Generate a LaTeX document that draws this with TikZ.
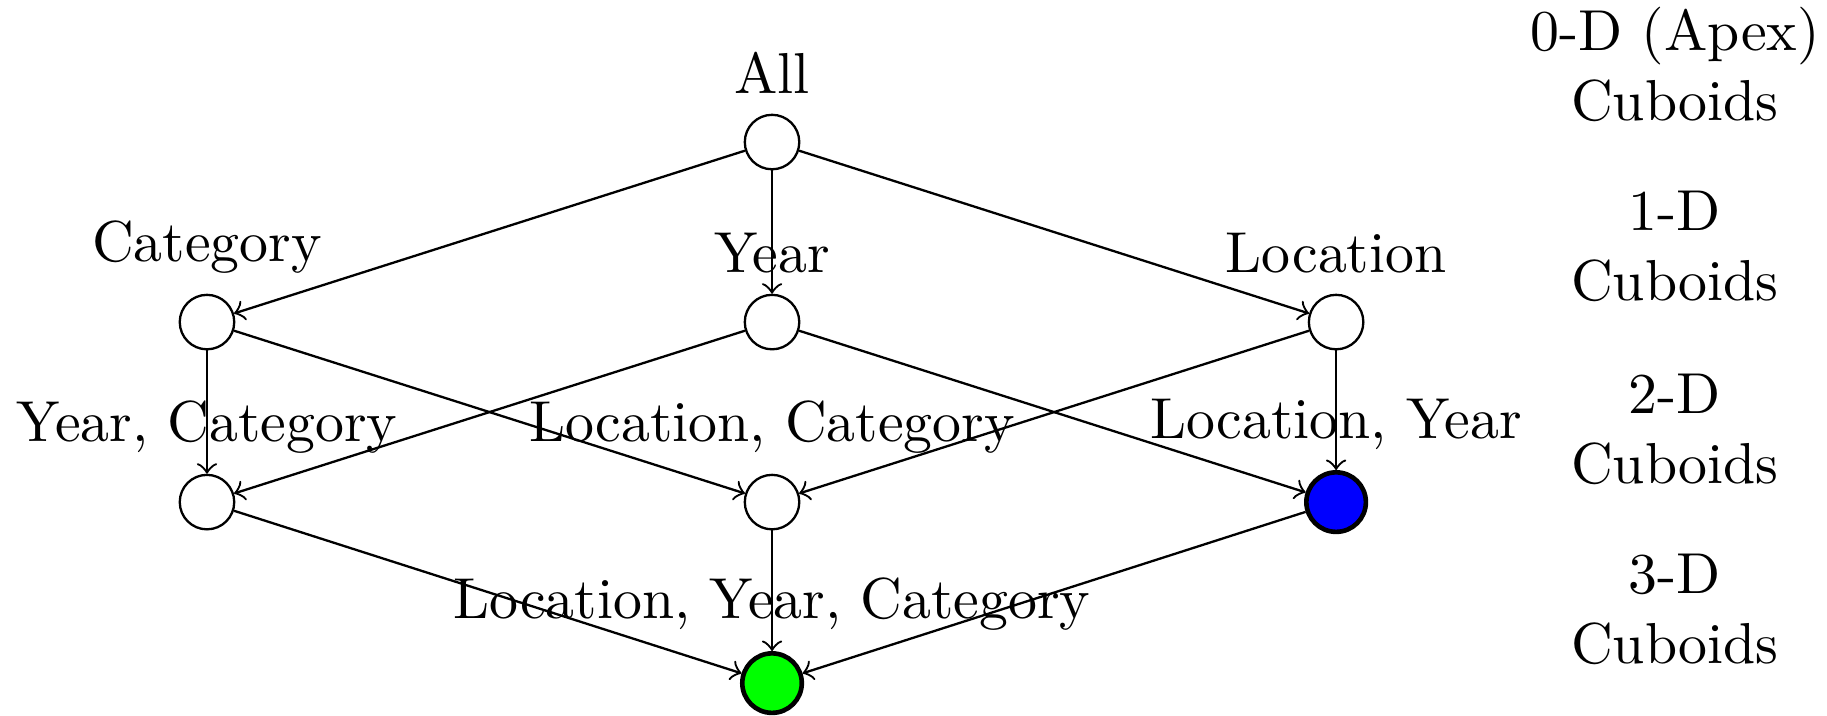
\documentclass[tikz,border=0pt]{standalone}
\usepackage{tikz}

\tikzset{
  cuboid/.style={circle,draw},
  hit/.style={circle,draw,thick,minimum size=10.3pt},
  level/.style={align=center,anchor=base},
}

\begin{document}
\begin{tikzpicture}
        \useasboundingbox (0,-4.355) rectangle (11.113,0);
        % apex
        \node[cuboid,label=above:All] (all) at (4.696,-0.864) {};
        % 1-D cuboids
        \node[cuboid,label=above:Category] (cat) at (1.259,-1.959) {};
        \node[cuboid,label=above:Year] (year) at (4.696,-1.959) {};
        \node[cuboid,label=above:Location] (loc) at (8.127,-1.959) {};
        % 2-D cuboids
        \node[cuboid,label={above:Year, Category}] (yearcat) at (1.259,-3.054) {};
        \node[cuboid,label={above:Location, Category}] (loccat) at (4.696,-3.054) {};
        \node[hit,fill=blue,label={above:Location, Year}] (locyear) at (8.127,-3.054) {};
        % base cuboid
        \node[hit,fill=green,label={above:Location, Year, Category}] (base) at (4.696,-4.155) {};

        \draw[->] (all) -- (cat);
        \draw[->] (all) -- (year);
        \draw[->] (all) -- (loc);
        \draw[->] (cat) -- (yearcat);
        \draw[->] (cat) -- (loccat);
        \draw[->] (year) -- (yearcat);
        \draw[->] (year) -- (locyear);
        \draw[->] (loc) -- (loccat);
        \draw[->] (loc) -- (locyear);
        \draw[->] (yearcat) -- (base);
        \draw[->] (loccat) -- (base);
        \draw[->] (locyear) -- (base);

        % lattice levels (base is the second line)
        \node[level] (lvl0) at (10.188,-0.730) {0-D (Apex)\\Cuboids};
        \node[level] (lvl1) at (10.188,-1.825) {1-D\\Cuboids};
        \node[level] (lvl2) at (10.188,-2.938) {2-D\\Cuboids};
        \node[level] (lvl3) at (10.188,-4.033) {3-D\\Cuboids};
    \end{tikzpicture}
\end{document}
